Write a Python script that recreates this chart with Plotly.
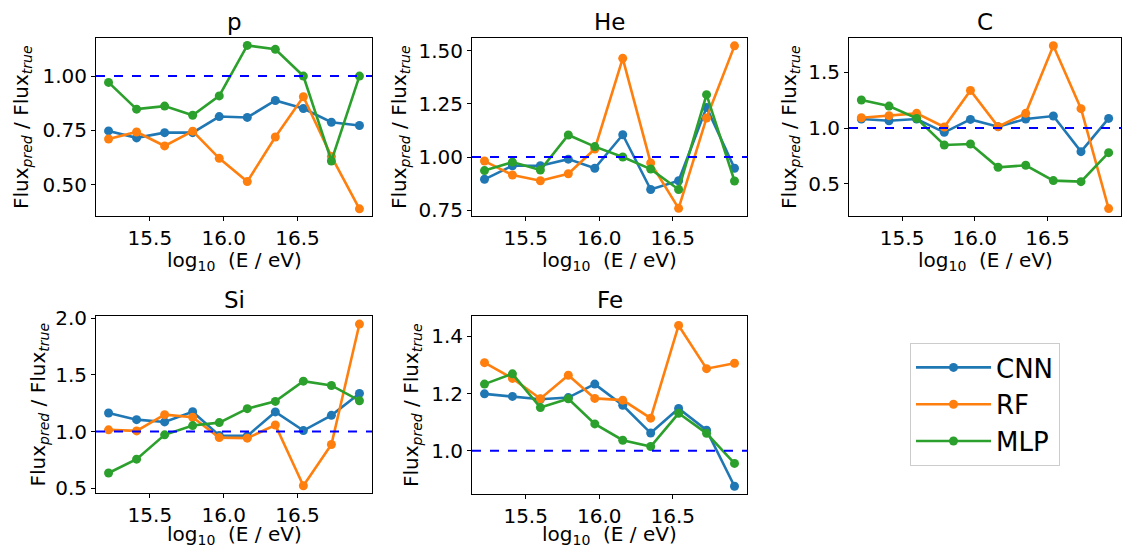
import plotly.graph_objects as go

W, H = 1122, 550

energy = [15.22, 15.41, 15.60, 15.79, 15.97, 16.16, 16.35, 16.54, 16.73, 16.92]
panels = ["p", "He", "C", "Si", "Fe"]

p_cnn = [0.748, 0.716, 0.740, 0.740, 0.814, 0.810, 0.888, 0.851, 0.788, 0.773]
p_rf = [0.711, 0.743, 0.679, 0.747, 0.622, 0.515, 0.720, 0.905, 0.631, 0.390]
p_mlp = [0.971, 0.848, 0.862, 0.820, 0.909, 1.141, 1.123, 1.000, 0.610, 1.000]

he_cnn = [0.895, 0.959, 0.959, 0.990, 0.947, 1.105, 0.847, 0.888, 1.234, 0.947]
he_rf = [0.981, 0.915, 0.888, 0.921, 1.038, 1.465, 0.972, 0.758, 1.184, 1.524]
he_mlp = [0.936, 0.976, 0.939, 1.104, 1.049, 1.000, 0.943, 0.847, 1.294, 0.887]

c_cnn = [1.080, 1.065, 1.080, 0.961, 1.077, 1.012, 1.080, 1.107, 0.789, 1.086]
c_rf = [1.092, 1.110, 1.131, 1.009, 1.336, 1.012, 1.131, 1.735, 1.173, 0.280]
c_mlp = [1.250, 1.196, 1.086, 0.848, 0.857, 0.649, 0.667, 0.530, 0.521, 0.780]

si_cnn = [1.164, 1.105, 1.085, 1.175, 0.965, 0.962, 1.173, 1.009, 1.143, 1.336]
si_rf = [1.015, 1.006, 1.149, 1.126, 0.947, 0.942, 1.058, 0.523, 0.886, 1.947]
si_mlp = [0.635, 0.757, 0.971, 1.053, 1.079, 1.202, 1.266, 1.444, 1.406, 1.272]

fe_cnn = [1.199, 1.190, 1.180, 1.186, 1.233, 1.159, 1.062, 1.148, 1.072, 0.876]
fe_rf = [1.308, 1.253, 1.182, 1.264, 1.183, 1.177, 1.114, 1.438, 1.287, 1.306]
fe_mlp = [1.233, 1.269, 1.151, 1.182, 1.094, 1.037, 1.015, 1.131, 1.061, 0.956]

series = {
    "p": [p_cnn, p_rf, p_mlp],
    "He": [he_cnn, he_rf, he_mlp],
    "C": [c_cnn, c_rf, c_mlp],
    "Si": [si_cnn, si_rf, si_mlp],
    "Fe": [fe_cnn, fe_rf, fe_mlp],
}
models = ["CNN", "RF", "MLP"]
colors = ["#1f77b4", "#ff7f0e", "#2ca02c"]

x_ticks = [15.5, 16.0, 16.5]
y_ticks = {
    "p": [0.5, 0.75, 1.0],
    "He": [0.75, 1.0, 1.25, 1.5],
    "C": [0.5, 1.0, 1.5],
    "Si": [0.5, 1.0, 1.5, 2.0],
    "Fe": [1.0, 1.2, 1.4],
}
y_fmt = {"p": ".2f", "He": ".2f", "C": ".1f", "Si": ".1f", "Fe": ".1f"}
y_range = {
    "p": [0.357, 1.175],
    "He": [0.722, 1.561],
    "C": [0.214, 1.804],
    "Si": [0.459, 2.018],
    "Fe": [0.849, 1.471],
}
x_range = [15.135, 17.005]

# pixel boxes (left, right, top, bottom)
boxes = {
    "p": (96, 372, 38, 216),
    "He": (472, 747, 38, 216),
    "C": (849, 1121, 38, 216),
    "Si": (96, 372, 316, 493),
    "Fe": (472, 747, 316, 494),
}
ylabel_x = {"p": 22, "He": 400, "C": 790, "Si": 38, "Fe": 412}
xlabel_gap = {"p": 45, "He": 45, "C": 45, "Si": 42, "Fe": 41}

fig = go.Figure()
annotations = []
shapes = []
FONT = "DejaVu Sans"

for i, name in enumerate(panels):
    k = "" if i == 0 else str(i + 1)
    xa, ya = "x" + k, "y" + k
    l, r, t, b = boxes[name]
    for j, (m, c) in enumerate(zip(models, colors)):
        fig.add_trace(go.Scatter(
            x=energy, y=series[name][j], mode="lines+markers", name=m,
            line=dict(color=c, width=2.6), marker=dict(color=c, size=9),
            xaxis=xa, yaxis=ya, showlegend=(i == 0), legendgroup=m,
        ))
    common = dict(showgrid=False, zeroline=False, showline=True, linecolor="black",
                  linewidth=1, mirror=True, ticks="outside", ticklen=4, tickwidth=1,
                  tickcolor="black", automargin=False,
                  tickfont=dict(size=20, color="black", family=FONT))
    fig.update_layout(**{
        "xaxis" + k: dict(domain=[l / W, r / W], range=x_range, tickvals=x_ticks,
                          tickformat=".1f", anchor=ya, **common),
        "yaxis" + k: dict(domain=[1 - b / H, 1 - t / H], range=y_range[name],
                          tickvals=y_ticks[name], tickformat=y_fmt[name], anchor=xa, **common),
    })
    shapes.append(dict(type="line", xref=xa + " domain", yref=ya, x0=0, x1=1, y0=1, y1=1,
                       line=dict(color="#0000ff", width=2, dash="dash")))
    annotations.append(dict(text=name, x=(l + r) / 2 / W, y=1 - (t - 16) / H, xref="paper",
                            yref="paper", showarrow=False, xanchor="center", yanchor="middle",
                            font=dict(size=23, color="black", family=FONT)))
    annotations.append(dict(text="log<sub>10</sub>  (E / eV)", x=(l + r) / 2 / W,
                            y=1 - (b + xlabel_gap[name]) / H, xref="paper", yref="paper",
                            showarrow=False, xanchor="center", yanchor="middle",
                            font=dict(size=20, color="black", family=FONT)))
    annotations.append(dict(text="Flux<sub><i>pred</i></sub> / Flux<sub><i>true</i></sub>",
                            x=ylabel_x[name] / W, y=1 - (t + b) / 2 / H, xref="paper",
                            yref="paper", showarrow=False, textangle=-90, xanchor="center",
                            yanchor="middle", font=dict(size=20, color="black", family=FONT)))

fig.update_layout(
    template="none",
    width=W, height=H, margin=dict(l=0, r=0, t=0, b=0, autoexpand=False),
    paper_bgcolor="white", plot_bgcolor="white",
    annotations=annotations, shapes=shapes,
    font=dict(family=FONT, color="black"),
    legend=dict(x=910 / W, y=1 - 343 / H, xanchor="left", yanchor="top",
                bordercolor="#cccccc", borderwidth=1, bgcolor="white",
                font=dict(size=26, color="black", family=FONT), itemwidth=75,
                tracegroupgap=0),
)

fig.write_html("out.html", config={"displayModeBar": False},
               post_script="document.body.style.margin='0';document.body.style.overflow='hidden';")
